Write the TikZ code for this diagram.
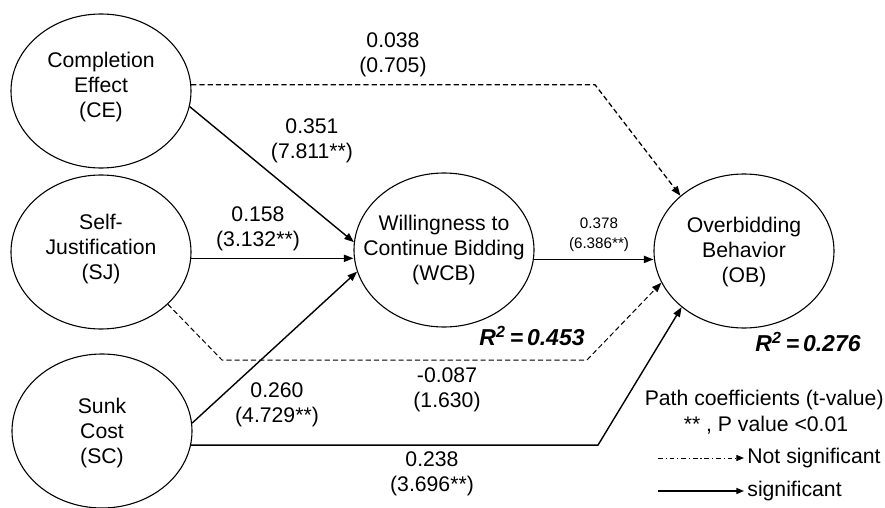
\documentclass[tikz,border=0pt]{standalone}
\usepackage{fontspec}
\setmainfont{Liberation Sans}
\usetikzlibrary{shapes.geometric,arrows.meta}
\begin{document}
\begin{tikzpicture}[x=0.5pt,y=-0.5pt,
  construct/.style={draw, ellipse, line width=0.55pt, minimum width=90pt, minimum height=77pt, inner sep=0pt},
  caption/.style={align=center, font=\fontsize{10.6}{12.5}\selectfont, inner sep=0pt},
  coef/.style={align=center, font=\fontsize{10.6}{12.3}\selectfont, inner sep=0pt},
  coefsmall/.style={align=center, font=\fontsize{7.6}{10}\selectfont, inner sep=0pt},
  rsq/.style={font=\fontsize{11.5}{13}\selectfont\bfseries\itshape, inner sep=0pt},
  sig/.style={line width=0.7pt, -{Triangle[length=4.8pt,width=3.6pt]}},
  nonsig/.style={line width=0.65pt, dash pattern=on 2.6pt off 1.5pt, -{Triangle[length=4.8pt,width=3.6pt]}},
  legsig/.style={line width=0.6pt, -{Triangle[length=3.8pt,width=3pt]}},
  legnonsig/.style={line width=0.5pt, dash pattern=on 2.4pt off 1.4pt on 0.6pt off 1.4pt, -{Triangle[length=3.8pt,width=3pt]}},
]
\useasboundingbox (0,0) rectangle (885,508);

% constructs
\node[construct] (CE)  at (101,91)  {};
\node[construct] (SJ)  at (101,252) {};
\node[construct] (SC)  at (102,431) {};
\node[construct] (WCB) at (444,250) {};
\node[construct] (OB)  at (744,251) {};

\node[caption] (CEt)  at (101,87)  {Completion\\Effect\\(CE)};
\node[caption] (SJt)  at (101,249) {Self-\\Justification\\(SJ)};
\node[caption] (SCt)  at (102,433) {Sunk\\Cost\\(SC)};
\node[caption] (WCBt) at (444,250) {Willingness to\\Continue Bidding\\(WCB)};
\node[caption] (OBt)  at (744,252) {Overbidding\\Behavior\\(OB)};

% bend points of the routed paths
\coordinate (k1) at (595,85);
\coordinate (k2) at (222,360);
\coordinate (k3) at (587,360);
\coordinate (k4) at (598,446);

% significant paths
\draw[sig] (CE.-10) -- (WCB.175.5);
\draw[sig] (SJ.-4) -- (SJ.-4 -| WCB.west);
\draw[sig] (SC.5) -- (WCB.194.5);
\draw[sig] (WCB.-6) -- (WCB.-6 -| OB.west);
\draw[sig] (SC.-9.5) -- (SC.-9.5 -| k4) -- (OB.222);

% non-significant paths
\draw[nonsig] (CE.4) -- (CE.4 -| k1) -- (OB.139);
\draw[nonsig, line width=0.5pt] (SJ.-38) -- (k2) -- (k3) -- (OB.201.3);

% path coefficients (t-values)
\node[coef] (l038) at (393,55)  {0.038\\(0.705)};
\node[coef] (l351) at (312,141) {0.351\\(7.811**)};
\node[coef] (l158) at (258,229) {0.158\\(3.132**)};
\node[coefsmall] (l378) at (599,235) {0.378\\(6.386**)};
\node[coef] (l260) at (277,405) {0.260\\(4.729**)};
\node[coef] (l087) at (447,390) {-0.087\\(1.630)};
\node[coef] (l238) at (432,474) {0.238\\(3.696**)};

% explained variance
\node[rsq] (r453) at (532,336) {R\textsuperscript{2}\,=\,0.453};
\node[rsq] (r276) at (808,342) {R\textsuperscript{2}\,=\,0.276};

% legend
\node[coef, anchor=east] (legt) at (884,400) {Path coefficients (t-value)};
\node[coef] (legp) at (766,425) {** , P value <0.01};
\node[coef, anchor=west] (legns) at (747,458) {Not significant};
\node[coef, anchor=west] (legs) at (747,491) {significant};
\coordinate (ns0) at (658,458);
\coordinate (ns1) at (744,458);
\coordinate (s0) at (658,491);
\coordinate (s1) at (744,491);
\draw[legnonsig] (ns0) -- (ns1);
\draw[legsig] (s0) -- (s1);
\end{tikzpicture}
\end{document}
